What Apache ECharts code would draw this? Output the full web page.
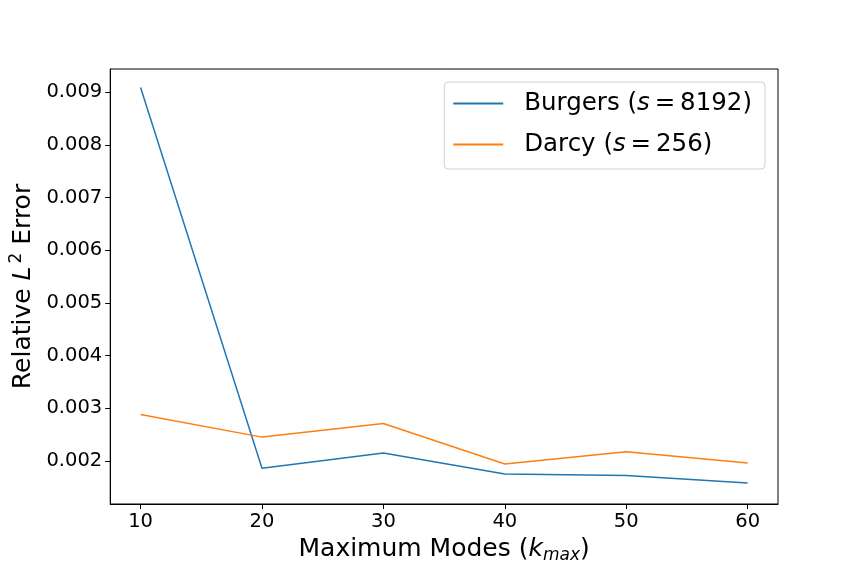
<!DOCTYPE html>
<html><head><meta charset="utf-8">
<script src="https://cdn.jsdelivr.net/npm/echarts@6/dist/echarts.min.js"></script>
<style>html,body{margin:0;padding:0;background:#fff}#c{width:864px;height:576px}</style>
</head><body><div id="c"></div>
<script>
const modes = [10, 20, 30, 40, 50, 60];
const burgers = [0.00909, 0.00186, 0.00215, 0.00175, 0.00172, 0.00158];
const darcy = [0.00288, 0.00245, 0.00271, 0.00194, 0.00217, 0.00196];
const xTicks = [10, 20, 30, 40, 50, 60];
const yTicks = [0.002, 0.003, 0.004, 0.005, 0.006, 0.007, 0.008, 0.009];

const F = 'DejaVu Sans';
const LF = 24.5, TF = 19.5, AF = 25;
const chart = echarts.init(document.getElementById('c'), null, {renderer: 'canvas'});
chart.setOption({
  animation: false,
  backgroundColor: '#fff',
  grid: {left: 108, right: 86, top: 69, bottom: 72, show: true, borderColor: '#000', borderWidth: 1},
  legend: {
    right: 99, top: 82, orient: 'vertical',
    backgroundColor: '#fff', borderColor: '#d0d0d0', borderWidth: 1, borderRadius: 4,
    padding: [9, 13, 12, 9], itemGap: 16, itemWidth: 50, itemHeight: 2, icon: 'rect',
    textStyle: {fontFamily: F, fontSize: LF, color: '#000', padding: [0, 0, 0, 16],
      rich: {i: {fontFamily: F, fontSize: LF, fontStyle: 'italic', color: '#000'}, n: {fontFamily: F, fontSize: LF, color: '#000'}}},
    formatter: function (name) {
      return name === 'Burgers' ? '{n|Burgers (}{i|s}{n|\u2009=\u20098192)}' : '{n|Darcy (}{i|s}{n|\u2009=\u2009256)}';
    },
    data: ['Burgers', 'Darcy']
  },
  xAxis: {
    type: 'value', min: 7.5, max: 62.5,
    name: '{n|Maximum Modes (}{i|k}{s|max}{n|)}', nameLocation: 'middle', nameGap: 30,
    nameTextStyle: {rich: {
      n: {fontFamily: F, fontSize: AF, color: '#000'},
      i: {fontFamily: F, fontSize: AF, fontStyle: 'italic', color: '#000'},
      s: {fontFamily: F, fontSize: 17, fontStyle: 'italic', color: '#000', padding: [13, 0, 0, 0]}
    }},
    axisLine: {lineStyle: {color: '#000', width: 1}},
    axisTick: {show: true, length: 5, lineStyle: {color: '#000'}, customValues: xTicks},
    axisLabel: {fontFamily: F, fontSize: TF, color: '#000', margin: 8, customValues: xTicks},
    splitLine: {show: false}
  },
  yAxis: {
    type: 'value', min: 0.00118, max: 0.00944,
    name: '{n|Relative }{i|L}{p|2}{n| Error}', nameLocation: 'middle', nameGap: 70, nameRotate: 90,
    nameTextStyle: {rich: {
      n: {fontFamily: F, fontSize: AF, color: '#000'},
      i: {fontFamily: F, fontSize: AF, fontStyle: 'italic', color: '#000'},
      p: {fontFamily: F, fontSize: 17, color: '#000', padding: [0, 0, 13, 3]}
    }},
    axisLine: {show: true, lineStyle: {color: '#000', width: 1}},
    axisTick: {show: true, length: 5, lineStyle: {color: '#000'}, customValues: yTicks},
    axisLabel: {fontFamily: F, fontSize: TF, color: '#000', margin: 8, customValues: yTicks,
      formatter: v => v.toFixed(3)},
    splitLine: {show: false}
  },
  series: [
    {name: 'Burgers', type: 'line', data: modes.map((m, i) => [m, burgers[i]]), showSymbol: false, symbol: 'none',
      lineStyle: {color: '#1f77b4', width: 1.5}, itemStyle: {color: '#1f77b4'}},
    {name: 'Darcy', type: 'line', data: modes.map((m, i) => [m, darcy[i]]), showSymbol: false, symbol: 'none',
      lineStyle: {color: '#ff7f0e', width: 1.5}, itemStyle: {color: '#ff7f0e'}}
  ]
});
</script></body></html>
